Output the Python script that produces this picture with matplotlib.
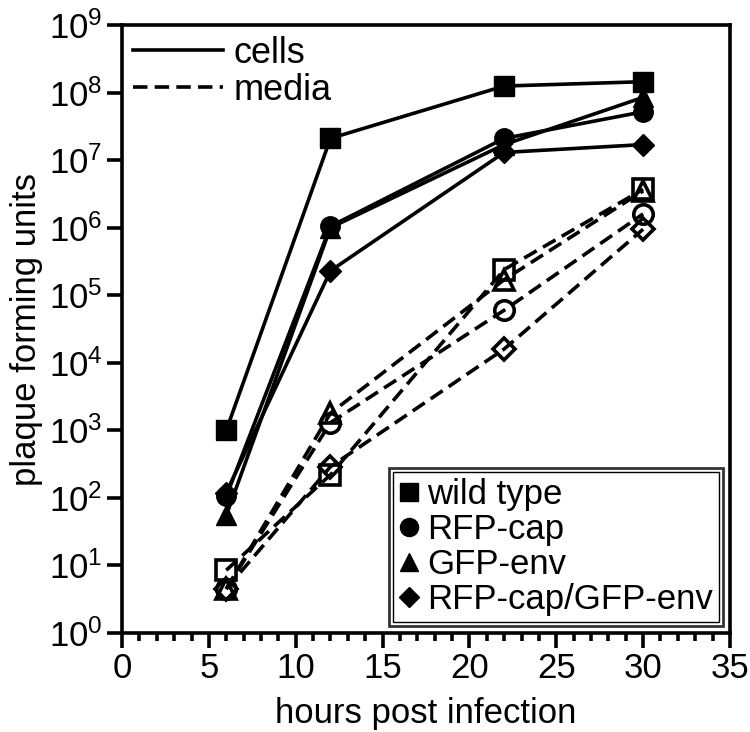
import matplotlib
matplotlib.use("Agg")
import matplotlib.pyplot as plt
from matplotlib.lines import Line2D
from matplotlib.patches import Rectangle

plt.rcParams['font.family'] = ['Liberation Sans', 'DejaVu Sans']
plt.rcParams['mathtext.fontset'] = 'custom'
plt.rcParams['mathtext.rm'] = 'Liberation Sans'

hours = [6, 12, 22, 30]
strains = ["wild type", "RFP-cap", "GFP-env", "RFP-cap/GFP-env"]
markers = ["s", "o", "^", "D"]

wt_cells = [1.0e3, 2.1e7, 1.25e8, 1.45e8]
rfp_cells = [105, 1.05e6, 2.1e7, 5.2e7]
gfp_cells = [55, 1.0e6, 1.7e7, 8.5e7]
dbl_cells = [120, 2.3e5, 1.3e7, 1.7e7]

wt_media = [8.5, 220, 2.4e5, 3.7e6]
rfp_media = [4.5, 1.3e3, 6.0e4, 1.6e6]
gfp_media = [4.5, 1.8e3, 1.7e5, 3.5e6]
dbl_media = [4.5, 290, 1.6e4, 9.5e5]

cells = [wt_cells, rfp_cells, gfp_cells, dbl_cells]
media = [wt_media, rfp_media, gfp_media, dbl_media]

FS = 25
LW = 2.6

fig = plt.figure(figsize=(7.5, 7.32), dpi=100)
ax = fig.add_axes([0.1627, 0.1352, 0.8106, 0.8306])

msz = {"s": 14, "o": 14, "^": 14, "D": 11}
for vals, m in zip(media, markers):
    ax.plot(hours, vals, color="black", lw=LW, dashes=(4, 2), marker=m,
            markersize=msz[m], markerfacecolor="none", markeredgecolor="black",
            markeredgewidth=2.6)
for vals, m in zip(cells, markers):
    ax.plot(hours, vals, color="black", lw=LW, marker=m, markersize=msz[m],
            markerfacecolor="black", markeredgecolor="black")

ax.set_yscale("log")
ax.set_ylim(1, 1e9)
ax.set_xlim(0, 35)
ax.set_yticks([10.0 ** k for k in range(10)])
ax.yaxis.set_minor_locator(matplotlib.ticker.NullLocator())
ax.set_xticks(range(0, 36, 5))
ax.set_xticks(range(0, 36, 1), minor=True)

for s in ax.spines.values():
    s.set_linewidth(2.6)
ax.tick_params(axis="both", which="major", direction="out", length=11, width=2.6,
               labelsize=FS, pad=3)
ax.tick_params(axis="x", which="minor", direction="out", length=6, width=2.6)
ax.set_xlabel("hours post infection", fontsize=FS, labelpad=8)
ax.set_ylabel("plaque forming units", fontsize=FS, labelpad=4)

# line style legend
h1 = [Line2D([], [], color="black", lw=LW),
      Line2D([], [], color="black", lw=LW, dashes=(4, 2))]
leg1 = ax.legend(h1, ["cells", "media"], loc="upper left", frameon=False,
                 fontsize=FS + 1, handlelength=2.5, handletextpad=0.3,
                 labelspacing=0.05, borderaxespad=0.1, borderpad=0.2)
ax.add_artist(leg1)

# marker legend
h2 = [Line2D([], [], color="black", lw=0, marker=m, markersize=msz[m] - 1)
      for m in markers]
leg2 = ax.legend(h2, strains, loc="lower right", fontsize=FS, frameon=True,
                 fancybox=False, edgecolor="black", handlelength=0.55,
                 handletextpad=0.25, labelspacing=0.05, borderpad=0.3,
                 borderaxespad=0.2)
leg2.get_frame().set_linewidth(2.0)

fig.canvas.draw()
bb = leg2.get_frame().get_window_extent().transformed(fig.transFigure.inverted())
dx = 4 / 750
dy = 4 / 732
fig.patches.append(Rectangle((bb.x0 + dx, bb.y0 + dy), bb.width - 2 * dx,
                             bb.height - 2 * dy, transform=fig.transFigure,
                             fill=False, edgecolor="black", linewidth=1.0,
                             zorder=10))

fig.savefig("out.png", dpi=100)
